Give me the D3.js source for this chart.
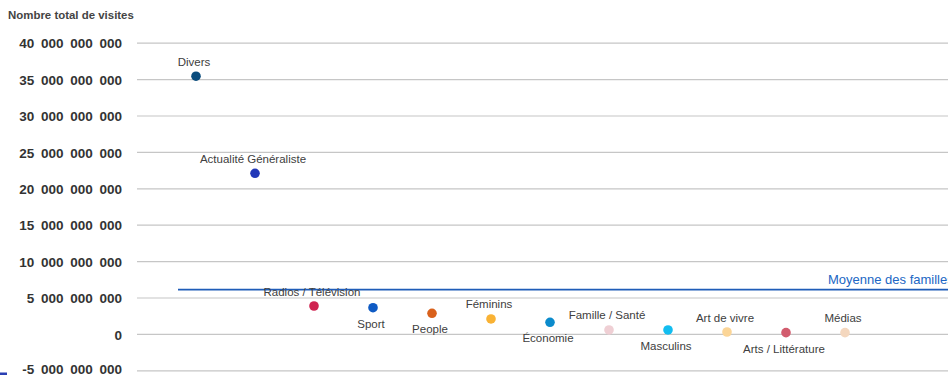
<!DOCTYPE html>
<html>
<head>
<meta charset="utf-8">
<script src="https://cdn.jsdelivr.net/npm/d3@7"></script>
<style>
  html, body { margin: 0; padding: 0; background: #fff; }
  svg { display: block; font-family: "Liberation Sans", Arial, sans-serif; }
  text { font-family: "Liberation Sans", Arial, sans-serif; }
</style>
</head>
<body>
<svg id="chart" width="948" height="375"></svg>
<script>
// ---- Data ----
const categories = ["Divers", "Actualité Généraliste", "Radios / Télévision", "Sport", "People",
  "Féminins", "Économie", "Famille / Santé", "Masculins", "Art de vivre", "Arts / Littérature", "Médias"];
const visits = [35.4e9, 22.06e9, 3.83e9, 3.6e9, 2.83e9, 2.05e9, 1.59e9, 0.54e9, 0.54e9, 0.26e9, 0.17e9, 0.17e9];
const colors = ["#0a4c7d", "#2238b8", "#cf2350", "#0f5bc4", "#d9611c", "#f9b234", "#0b8bcc",
  "#efcfd4", "#12bdf0", "#fbd597", "#d25c6e", "#f4d7be"];
const labelSide = ["above", "above", "above", "below", "below", "above", "below", "above", "below", "above", "below", "above"];
const yTicks = [-5e9, 0, 5e9, 10e9, 15e9, 20e9, 25e9, 30e9, 35e9, 40e9];
const yTitle = "Nombre total de visites";
const avgLabel = "Moyenne des familles";

// ---- Chart ----
const svg = d3.select("#chart");
const x = d3.scaleLinear().domain([0, 13]).range([137, 904]);
const y = d3.scaleLinear().domain([-5e9, 40e9]).range([370.3, 42.7]);
const loc = d3.formatLocale({ decimal: ",", thousands: "\u2002", grouping: [3], currency: ["", " €"], minus: "-" });
const fmt = loc.format(",.0f");

// gridlines + tick labels via axis
const yAxis = d3.axisLeft(y).tickValues(yTicks).tickFormat(fmt).tickSize(-(948 - 137)).tickPadding(15);
const gy = svg.append("g").attr("transform", "translate(137,0)").call(yAxis);
gy.select(".domain").remove();
gy.selectAll(".tick line").attr("stroke", "#c6c6c6").attr("stroke-width", 1.2);
gy.selectAll(".tick text")
  .attr("fill", "#333")
  .attr("font-size", "13.5px")
  .attr("font-weight", "bold")
  .attr("font-family", "'Liberation Sans', Arial, sans-serif")
  .attr("dy", d => d === -5e9 ? "0.2em" : "0.38em");

// title, fitted to the reference width
const title = svg.append("text").attr("x", 8).attr("y", 19)
  .attr("font-size", "11px").attr("font-weight", "bold").attr("fill", "#444")
  .text(yTitle);
const tw = title.node().getComputedTextLength();
if (tw > 0) title.attr("font-size", (11 * 126 / tw).toFixed(2) + "px");

// average line
const avg = d3.mean(visits);
svg.append("line")
  .attr("x1", 178).attr("x2", 948)
  .attr("y1", y(avg)).attr("y2", y(avg))
  .attr("stroke", "#1f5cb8").attr("stroke-width", 1.6);
svg.append("text").attr("x", 828).attr("y", y(avg) - 6)
  .attr("font-size", "13px").attr("fill", "#2066c4")
  .text(avgLabel);

// points
const data = categories.map((c, i) => ({ c, v: visits[i], col: colors[i], side: labelSide[i], i }));
svg.append("g").selectAll("circle").data(data).join("circle")
  .attr("cx", d => x(d.i + 1)).attr("cy", d => y(d.v))
  .attr("r", 4.8).attr("fill", d => d.col);

svg.append("g").selectAll("text").data(data).join("text")
  .attr("x", d => x(d.i + 1) - 2)
  .attr("y", d => y(d.v) + (d.side === "above" ? -10.5 : 20))
  .attr("text-anchor", "middle")
  .attr("font-size", "11.5px").attr("fill", "#404040")
  .text(d => d.c);

// small legend fragment bottom-left
svg.append("rect").attr("x", 0).attr("y", 372.5).attr("width", 7).attr("height", 2.5).attr("fill", "#2a3fb3");
</script>
</body>
</html>
